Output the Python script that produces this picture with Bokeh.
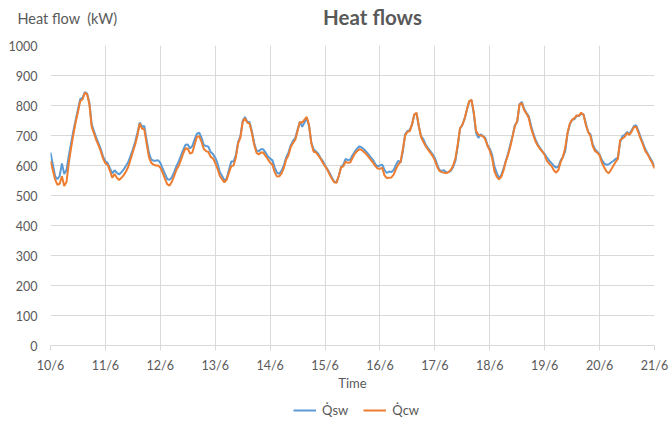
import numpy as np
from bokeh.plotting import figure
from bokeh.layouts import column
from bokeh.models import FixedTicker, Label, Legend, LegendItem, Range1d
from bokeh.embed import file_html
from bokeh.resources import INLINE

# --- data (hourly, from 10/6 00:00 to 21/6 00:00) ---
day_labels = ["10/6", "11/6", "12/6", "13/6", "14/6", "15/6",
              "16/6", "17/6", "18/6", "19/6", "20/6", "21/6"]

q_sw = [
    643, 604, 565, 554, 565, 607, 572, 585, 632, 674, 715, 752, 787, 822, 825, 845, 840, 809, 737, 715, 693, 674, 654, 629,
    614, 608, 590, 574, 584, 576, 570, 578, 587, 599, 612, 632, 654, 678, 709, 743, 729, 732, 685, 643, 620, 616, 616, 618,
    609, 590, 573, 555, 552, 560, 577, 597, 613, 632, 652, 669, 670, 657, 665, 687, 706, 709, 693, 668, 665, 663, 645, 638,
    626, 607, 578, 565, 550, 557, 585, 613, 613, 634, 678, 698, 748, 762, 745, 745, 715, 676, 650, 648, 654, 654, 643, 630,
    623, 617, 593, 576, 572, 583, 600, 627, 643, 667, 682, 692, 720, 746, 729, 743, 758, 732, 676, 654, 647, 639, 626, 615,
    600, 588, 575, 559, 546, 544, 565, 595, 603, 622, 618, 619, 634, 646, 656, 664, 660, 654, 646, 637, 627, 618, 604, 597,
    600, 603, 585, 575, 580, 578, 585, 602, 616, 610, 646, 704, 715, 718, 736, 769, 773, 730, 697, 687, 669, 658, 648, 637,
    625, 604, 585, 582, 584, 577, 578, 583, 595, 616, 665, 723, 735, 756, 785, 813, 818, 774, 709, 692, 704, 698, 692, 668,
    656, 636, 598, 576, 559, 567, 590, 615, 640, 670, 700, 735, 745, 804, 812, 789, 776, 765, 734, 707, 686, 670, 658, 647,
    638, 626, 616, 608, 599, 593, 597, 617, 629, 649, 707, 737, 753, 754, 766, 765, 773, 770, 740, 712, 704, 670, 654, 646,
    636, 618, 607, 602, 604, 610, 615, 622, 626, 678, 698, 702, 712, 705, 717, 732, 734, 715, 693, 674, 654, 640, 627, 613,
    596,
]

q_cw = [
    615, 585, 554, 536, 539, 564, 532, 545, 609, 659, 704, 745, 778, 815, 820, 842, 837, 804, 729, 707, 685, 667, 647, 623,
    607, 602, 582, 559, 572, 559, 552, 559, 568, 580, 596, 620, 645, 670, 700, 740, 723, 720, 674, 629, 609, 603, 600, 600,
    593, 576, 556, 538, 533, 545, 564, 585, 598, 618, 640, 658, 656, 640, 643, 670, 695, 698, 679, 655, 648, 645, 629, 624,
    609, 589, 565, 554, 544, 553, 576, 598, 600, 626, 674, 693, 745, 758, 743, 740, 709, 670, 643, 637, 643, 643, 632, 621,
    609, 603, 578, 563, 564, 574, 592, 620, 634, 662, 675, 686, 716, 745, 743, 753, 762, 735, 674, 646, 644, 634, 623, 609,
    598, 586, 570, 556, 544, 542, 565, 594, 597, 613, 609, 610, 625, 639, 648, 654, 652, 645, 638, 629, 619, 609, 598, 590,
    589, 592, 567, 558, 559, 560, 570, 588, 603, 612, 654, 700, 712, 714, 736, 770, 776, 730, 694, 678, 664, 653, 643, 632,
    617, 596, 582, 578, 576, 575, 578, 586, 600, 624, 670, 724, 735, 756, 787, 814, 819, 778, 715, 703, 700, 698, 688, 666,
    650, 625, 582, 563, 554, 562, 583, 613, 636, 663, 698, 732, 748, 804, 808, 785, 773, 759, 726, 702, 680, 666, 655, 646,
    635, 615, 606, 598, 584, 576, 585, 612, 629, 660, 709, 740, 752, 758, 767, 766, 776, 768, 735, 712, 698, 665, 648, 643,
    634, 609, 594, 580, 574, 586, 599, 612, 622, 685, 690, 696, 709, 702, 713, 728, 729, 709, 688, 669, 648, 637, 622, 609,
    590,
]

y_ticks = [0, 100, 200, 300, 400, 500, 600, 700, 800, 900, 1000]

title_text = "Heat flows"
y_title = "Heat flow \u00a0(kW)"
x_title = "Time"
series_names = ["Q\u0307sw", "Q\u0307cw"]
series_colors = ["#5B9BD5", "#ED7D31"]

# x positions: time in days since 10/6 00:00 (hourly samples)
x = np.arange(len(q_sw)) / 24.0

FONT = "Lato"
TXT = "#595959"
GRID = "#D9D9D9"
W = 670


def strip(height):
    # a text/legend strip whose frame covers the whole canvas (data units = pixels)
    f = figure(width=W, height=height, output_backend="svg", toolbar_location=None,
               x_range=Range1d(0, W), y_range=Range1d(0, height), title=None,
               x_axis_location=None, y_axis_location=None, min_border=0,
               frame_align=False)
    f.xgrid.visible = False
    f.ygrid.visible = False
    f.outline_line_color = None
    return f


# ---- header strip: y-axis title and chart title on one row ----
top = strip(30)
top.add_layout(Label(x=17, y=12, text=y_title, text_align="left", text_baseline="middle",
                     text_font=FONT, text_font_size="14.5px", text_color=TXT))
top.add_layout(Label(x=372, y=13.5, text=title_text, text_align="center", text_baseline="middle",
                     text_font=FONT, text_font_size="20.5px", text_font_style="bold",
                     text_color=TXT))

# ---- main chart ----
p = figure(width=W, height=365, output_backend="svg", toolbar_location=None,
           x_range=Range1d(0, len(day_labels) - 1), y_range=Range1d(y_ticks[0], y_ticks[-1]),
           min_border_left=50, min_border_right=16, min_border_top=15, min_border_bottom=50,
           frame_align=False)
p.outline_line_color = None

p.xgrid.ticker = FixedTicker(ticks=list(range(len(day_labels))))
p.ygrid.ticker = FixedTicker(ticks=y_ticks)
p.xgrid.grid_line_color = GRID
p.ygrid.grid_line_color = GRID

xa = p.xaxis[0]
xa.ticker = FixedTicker(ticks=list(range(len(day_labels))))
xa.major_label_overrides = {i: lab for i, lab in enumerate(day_labels)}
xa.axis_line_color = GRID
xa.major_tick_line_color = GRID
xa.major_tick_out = 5
xa.major_tick_in = 0
xa.minor_tick_line_color = None
xa.major_label_standoff = 7
xa.major_label_text_font = FONT
xa.major_label_text_font_size = "12.5px"
xa.major_label_text_color = TXT
xa.axis_label = x_title
xa.axis_label_text_font = FONT
xa.axis_label_text_font_size = "13px"
xa.axis_label_text_font_style = "normal"
xa.axis_label_text_color = TXT
xa.axis_label_standoff = -1

ya = p.yaxis[0]
ya.ticker = FixedTicker(ticks=y_ticks)
ya.axis_line_color = None
ya.major_tick_line_color = None
ya.minor_tick_line_color = None
ya.major_tick_out = 0
ya.major_tick_in = 0
ya.major_label_standoff = 13
ya.major_label_text_font = FONT
ya.major_label_text_font_size = "12.5px"
ya.major_label_text_color = TXT

p.line(x, q_sw, line_color=series_colors[0], line_width=2)
p.line(x, q_cw, line_color=series_colors[1], line_width=2)

# ---- legend strip (series drawn out of view; only their legend glyphs show) ----
leg = strip(27)
k1 = leg.line(x, q_sw, line_color=series_colors[0], line_width=2)
k2 = leg.line(x, q_cw, line_color=series_colors[1], line_width=2)
legend = Legend(items=[LegendItem(label=series_names[0], renderers=[k1]),
                       LegendItem(label=series_names[1], renderers=[k2])],
                orientation="horizontal", location=(293, 4),
                border_line_color=None, background_fill_alpha=0,
                padding=0, margin=0, spacing=15, label_standoff=6,
                glyph_width=23, glyph_height=16, label_height=16,
                label_text_font=FONT, label_text_font_size="13px",
                label_text_color=TXT)
leg.add_layout(legend)

layout = column(top, p, leg, spacing=0)
open("out.html", "w").write(file_html(layout, INLINE))
